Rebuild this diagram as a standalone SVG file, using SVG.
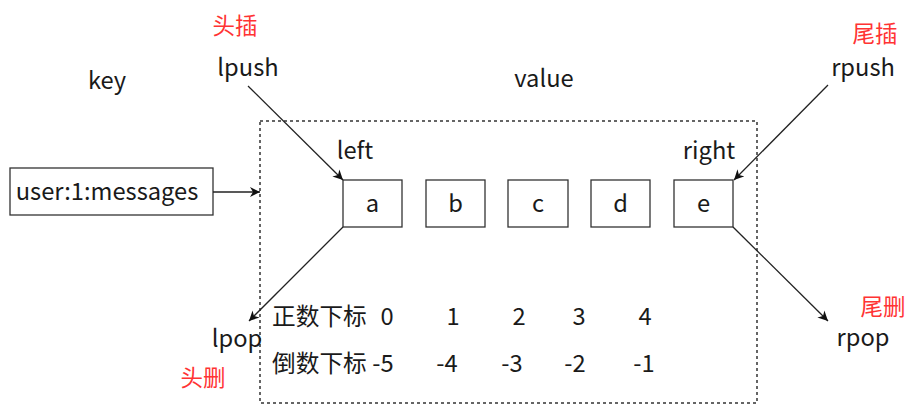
<svg xmlns="http://www.w3.org/2000/svg" width="907" height="405" viewBox="0 0 907 405">
  <style>
    text { font-family: "Noto Sans CJK SC", "Noto Sans", sans-serif; font-size: 23.7px; fill: #1a1a1a; }
    .red { fill: #ff3333; font-size: 22.5px; }
    .mid { text-anchor: middle; }
    .box { fill: #ffffff; stroke: #333333; stroke-width: 1.3; }
    .edge { fill: none; stroke: #222222; stroke-width: 1.3; }
    .frame { fill: none; stroke: #333333; stroke-width: 1.5; stroke-dasharray: 3 3; }
  </style>
  <defs>
    <marker id="arrow" viewBox="0 0 10 10" refX="10" refY="5" markerWidth="10" markerHeight="10" markerUnits="userSpaceOnUse" orient="auto">
      <path d="M0,0 L10,5 L0,10 L3,5 Z" fill="#111111"/>
    </marker>
  </defs>

  <rect width="907" height="405" fill="#ffffff"/>

  <!-- value container -->
  <rect id="value-frame" class="frame" x="260" y="121" width="497" height="282"/>

  <g id="labels">
    <text x="107" y="89" class="mid">key</text>
    <text x="544" y="87" class="mid">value</text>
    <text x="355" y="159" class="mid">left</text>
    <text x="709" y="159" class="mid">right</text>
  </g>

  <g id="key">
    <rect class="box" x="10" y="168" width="203" height="47"/>
    <text x="107" y="200" class="mid">user:1:messages</text>
  </g>

  <g id="node-a">
    <rect class="box" x="343" y="180" width="59" height="47"/>
    <text x="372.5" y="212" class="mid">a</text>
  </g>
  <g id="node-b">
    <rect class="box" x="426" y="180" width="59" height="47"/>
    <text x="455.5" y="212" class="mid">b</text>
  </g>
  <g id="node-c">
    <rect class="box" x="508" y="180" width="60" height="47"/>
    <text x="538" y="212" class="mid">c</text>
  </g>
  <g id="node-d">
    <rect class="box" x="591" y="180" width="59" height="47"/>
    <text x="620.5" y="212" class="mid">d</text>
  </g>
  <g id="node-e">
    <rect class="box" x="674" y="180" width="59" height="47"/>
    <text x="703.5" y="212" class="mid">e</text>
  </g>

  <g id="ops">
    <text x="235" y="34" class="red mid">头插</text>
    <text x="248" y="76" class="mid">lpush</text>
    <text x="875" y="42" class="red mid">尾插</text>
    <text x="863" y="76" class="mid">rpush</text>
    <text x="237" y="347" class="mid">lpop</text>
    <text x="203" y="386" class="red mid">头删</text>
    <text x="863" y="346" class="mid">rpop</text>
    <text x="883" y="315" class="red mid">尾删</text>
  </g>

  <g id="index-rows">
    <text x="272" y="325">正数下标</text>
    <text x="387" y="325" class="mid">0</text>
    <text x="453" y="325" class="mid">1</text>
    <text x="519" y="325" class="mid">2</text>
    <text x="579" y="325" class="mid">3</text>
    <text x="645" y="325" class="mid">4</text>
    <text x="272" y="372">倒数下标</text>
    <text x="383" y="372" class="mid">-5</text>
    <text x="447" y="372" class="mid">-4</text>
    <text x="512" y="372" class="mid">-3</text>
    <text x="575" y="372" class="mid">-2</text>
    <text x="644" y="372" class="mid">-1</text>
  </g>

  <g id="connectors">
    <line class="edge" x1="213" y1="192" x2="260" y2="192" marker-end="url(#arrow)"/>
    <line class="edge" x1="248" y1="86" x2="343" y2="180" marker-end="url(#arrow)"/>
    <line class="edge" x1="828" y1="85" x2="734" y2="180" marker-end="url(#arrow)"/>
    <line class="edge" x1="343" y1="227" x2="249" y2="321" marker-end="url(#arrow)"/>
    <line class="edge" x1="733" y1="227" x2="828" y2="321" marker-end="url(#arrow)"/>
  </g>
</svg>
